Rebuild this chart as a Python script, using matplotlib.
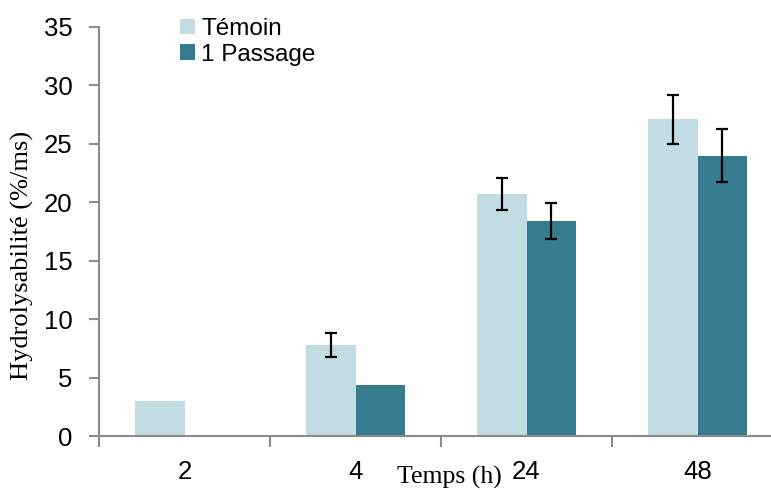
import matplotlib
matplotlib.use("Agg")
import matplotlib.pyplot as plt
import numpy as np

categories = ["2", "4", "24", "48"]
temoin = [3.0, 7.8, 20.7, 27.1]
passage = [0.0, 4.4, 18.4, 24.0]
temoin_err = [0.0, 1.0, 1.4, 2.1]
passage_err = [0.0, 0.0, 1.5, 2.3]
temoin_has_err = [False, True, True, True]
passage_has_err = [False, False, True, True]
series_labels = ["Témoin", "1 Passage"]
yticks = [0, 5, 10, 15, 20, 25, 30, 35]

c_light = "#c2dce4"
c_dark = "#357c8f"
spine_c = "#8c8c8c"

W, H = 771, 490
fig = plt.figure(figsize=(W / 100, H / 100), dpi=100)
left = 99 / W
right = (99 + 4 * 171) / W
bottom = (H - 436) / H
top = (H - 27) / H
ax = fig.add_axes([left, bottom, right - left, top - bottom])

x = np.arange(len(categories))
bw = 0.287
ax.bar(x - bw / 2, temoin, bw, color=c_light, label=series_labels[0])
ax.bar(x + bw / 2, passage, bw, color=c_dark, label=series_labels[1])

ek = dict(fmt="none", ecolor="black", elinewidth=1.6, capsize=4.6, capthick=1.6)
xt = [xi - bw / 2 for xi, h in zip(x, temoin_has_err) if h]
yt = [v for v, h in zip(temoin, temoin_has_err) if h]
et = [e for e, h in zip(temoin_err, temoin_has_err) if h]
ax.errorbar(xt, yt, yerr=et, **ek)
xp = [xi + bw / 2 for xi, h in zip(x, passage_has_err) if h]
yp = [v for v, h in zip(passage, passage_has_err) if h]
ep = [e for e, h in zip(passage_err, passage_has_err) if h]
ax.errorbar(xp, yp, yerr=ep, **ek)

ax.set_xlim(-0.5, len(categories) - 0.5)
ax.set_ylim(0, 35)
ax.set_yticks(yticks)
ax.set_yticklabels([str(t) for t in yticks], fontsize=18.5, family="Liberation Sans")
ax.set_xticks(x)
ax.set_xticklabels(categories, fontsize=18.5, family="Liberation Sans")
ax.set_xticks(np.arange(len(categories)) - 0.5, minor=True)
ax.tick_params(axis="x", which="major", length=0, pad=17)
ax.tick_params(axis="x", which="minor", length=8, width=1.5, color=spine_c, direction="out")
ax.tick_params(axis="y", length=7, width=1.5, color=spine_c, direction="out", pad=12)

for s in ["top", "right"]:
    ax.spines[s].set_visible(False)
for s in ["left", "bottom"]:
    ax.spines[s].set_color(spine_c)
    ax.spines[s].set_linewidth(1.5)

fig.text(22 / W, (H - 255) / H, "Hydrolysabilité (%/ms)", rotation=90,
         ha="center", va="center", fontsize=19, family="Liberation Serif")
fig.text(449 / W, (H - 477) / H, "Temps (h)", ha="center", va="center",
         fontsize=18.5, family="Liberation Serif")

leg = ax.legend(loc="upper left", bbox_to_anchor=(180 / W, (H - 18) / H),
                bbox_transform=fig.transFigure, frameon=False,
                prop={"family": "Liberation Sans", "size": 17.5},
                handlelength=0.62, handleheight=0.62, handletextpad=0.25,
                labelspacing=0.15, borderpad=0, borderaxespad=0)

fig.savefig("out.png", dpi=100)
